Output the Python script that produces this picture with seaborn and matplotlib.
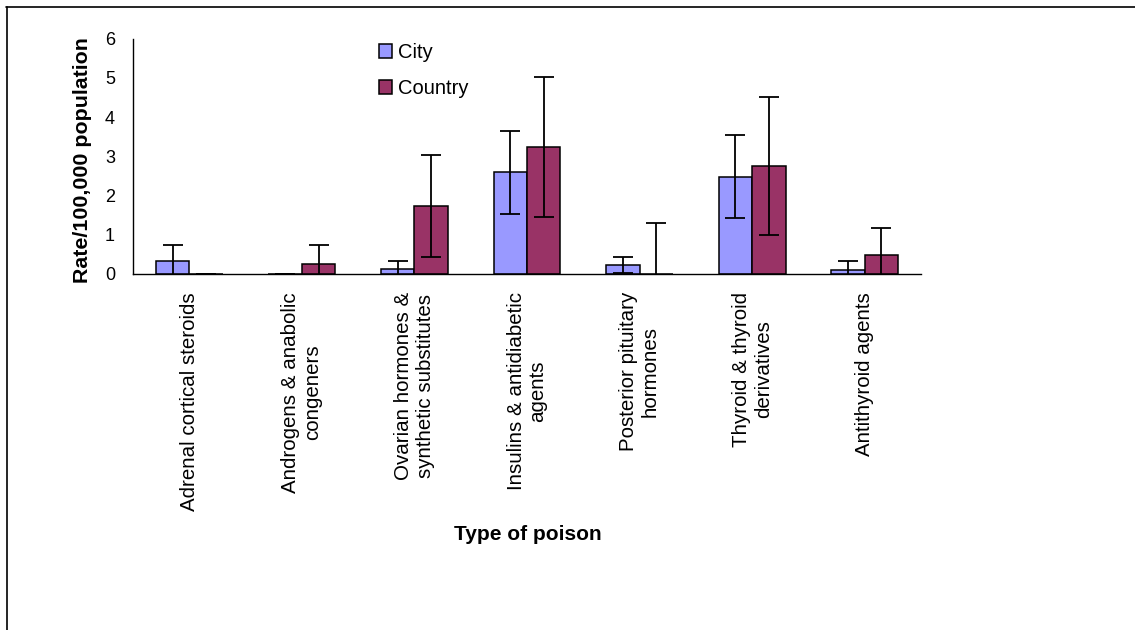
import matplotlib
matplotlib.use("Agg")
import matplotlib.pyplot as plt
from matplotlib.patches import Patch
from matplotlib.lines import Line2D
import seaborn as sns
import pandas as pd
import numpy as np

categories = [
    "Adrenal cortical steroids",
    "Androgens & anabolic\ncongeners",
    "Ovarian hormones &\nsynthetic substitutes",
    "Insulins & antidiabetic\nagents",
    "Posterior pituitary\nhormones",
    "Thyroid & thyroid\nderivatives",
    "Antithyroid agents",
]
series = ["City", "Country"]
city = [0.34, 0.0, 0.13, 2.59, 0.23, 2.48, 0.11]
country = [0.0, 0.25, 1.74, 3.24, 0.0, 2.75, 0.49]
city_err = [0.39, 0.0, 0.20, 1.06, 0.21, 1.05, 0.21]
country_err = [0.0, 0.48, 1.30, 1.78, 1.29, 1.76, 0.68]
colors = ["#9999FF", "#993366"]
yticks = [0, 1, 2, 3, 4, 5, 6]

sns.set_theme(style="white")
plt.rcParams["font.family"] = ["Liberation Sans", "DejaVu Sans"]
plt.rcParams["text.color"] = "black"
plt.rcParams["xtick.color"] = "black"
plt.rcParams["ytick.color"] = "black"

df = pd.DataFrame({
    "category": categories * 2,
    "series": ["City"] * len(categories) + ["Country"] * len(categories),
    "value": city + country,
})

fig = plt.figure(figsize=(11.35, 6.3), dpi=100)
ax = fig.add_axes([133 / 1135, 1 - 274 / 630, (921 - 133) / 1135, (274 - 38.5) / 630])

sns.barplot(data=df, x="category", y="value", hue="series", hue_order=series,
            order=categories, palette=colors, width=0.595, gap=0,
            edgecolor="black", linewidth=1.1, errorbar=None, ax=ax, legend=False,
            saturation=1)

for cont, errs in zip(ax.containers, [city_err, country_err]):
    xs = [b.get_x() + b.get_width() / 2 for b in cont]
    ys = [b.get_height() for b in cont]
    ax.errorbar(xs, ys, yerr=errs, fmt="none", ecolor="black", elinewidth=1.3,
                capsize=7, capthick=1.3, zorder=5)

ax.set_xlim(-0.5, len(categories) - 0.5)
ax.set_ylim(0, 6)
ax.set_yticks(yticks)
ax.set_yticklabels([str(t) for t in yticks], fontsize=13, color="black")
ax.set_xticks(range(len(categories)))
ax.set_xticklabels(categories, rotation=90, fontsize=14.8, ha="center", va="top",
                   multialignment="center", color="black")
ax.set_xticks(np.arange(-0.5, len(categories), 1.0), minor=True)
ax.tick_params(axis="x", which="major", length=0, pad=13)
ax.tick_params(axis="x", which="minor", length=5, width=1, color="black", direction="out")
ax.tick_params(axis="y", which="major", length=5, width=1, color="black", direction="out", pad=8)
ax.set_xlabel("")
ax.set_ylabel("")
for s in ["top", "right"]:
    ax.spines[s].set_visible(False)
for s in ["left", "bottom"]:
    ax.spines[s].set_color("black")
    ax.spines[s].set_linewidth(1.0)

fig.text(528 / 1135, 1 - 534 / 630, "Type of poison", fontsize=15, fontweight="bold",
         ha="center", va="center", color="black")
fig.text(83 / 1135, 1 - 160 / 630, "Rate/100,000 population", fontsize=15.4,
         fontweight="bold", rotation=90, ha="center", va="center", color="black")

handles = [Patch(facecolor=c, edgecolor="black", linewidth=1.1) for c in colors]
leg = fig.legend(handles, series, loc="upper left", bbox_to_anchor=(379 / 1135, 1 - 43 / 630),
                 frameon=False, fontsize=14.5, handlelength=0.65, handleheight=0.65,
                 handletextpad=0.3, labelspacing=0.85, borderaxespad=0, borderpad=0)
for t in leg.get_texts():
    t.set_color("black")

fig.add_artist(Line2D([6 / 1135, 1], [1 - 6.5 / 630, 1 - 6.5 / 630],
                      transform=fig.transFigure, color="black", linewidth=1.2))
fig.add_artist(Line2D([7 / 1135, 7 / 1135], [0, 1 - 6.5 / 630],
                      transform=fig.transFigure, color="black", linewidth=1.2))

fig.savefig("out.png", dpi=100)
